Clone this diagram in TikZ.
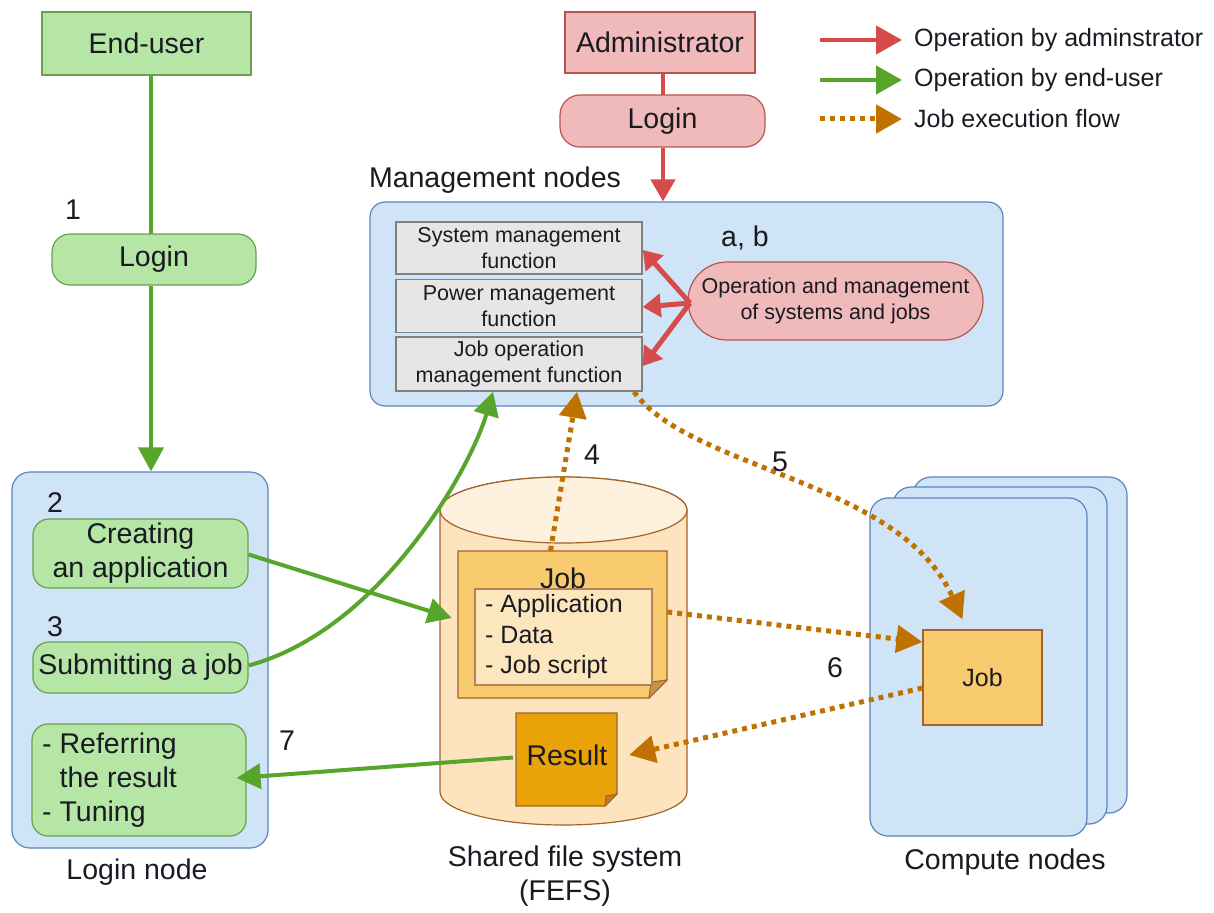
\documentclass[tikz,border=0pt]{standalone}
\usepackage{fontspec}
\setmainfont{Liberation Sans}
\usetikzlibrary{arrows.meta,shapes.misc}
\definecolor{ink}{HTML}{1A1A22}
\definecolor{gfill}{HTML}{B5E6A5}
\definecolor{gline}{HTML}{6A9F50}
\definecolor{bfill}{HTML}{D0E4F8}
\definecolor{bline}{HTML}{5B84BC}
\definecolor{pfill}{HTML}{F0BABA}
\definecolor{pline}{HTML}{B85450}
\definecolor{grayfill}{HTML}{E6E6E6}
\definecolor{grayline}{HTML}{808080}
\definecolor{cylfill}{HTML}{FDE4BE}
\definecolor{cyltop}{HTML}{FDF0DC}
\definecolor{cline}{HTML}{A0642D}
\definecolor{jobfill}{HTML}{F7CB6E}
\definecolor{jobinner}{HTML}{FCE6BE}
\definecolor{resfill}{HTML}{E9A308}
\definecolor{redar}{HTML}{D64B4B}
\definecolor{greenar}{HTML}{57A52B}
\definecolor{orar}{HTML}{BF7200}
\tikzset{
  big/.style={font=\fontsize{28.5}{34}\selectfont, text=ink},
  mid/.style={font=\fontsize{25}{30.5}\selectfont, text=ink},
  small/.style={font=\fontsize{21.5}{25.5}\selectfont, text=ink},
  gbox/.style={draw=gline, fill=gfill, line width=1.2, rounded corners=16, align=center, inner sep=0, big},
  pbox/.style={draw=pline, fill=pfill, line width=1.2, align=center, inner sep=0, big},
  fbox/.style={draw=grayline, fill=grayfill, line width=1.5, align=center, inner sep=0, small},
  cont/.style={draw=bline, fill=bfill, line width=1.2, rounded corners=18, inner sep=0},
  ghost/.style={inner sep=0, draw=none},
  garrow/.style={draw=greenar, line width=4, -{Triangle[length=24,width=25]}},
  rarrow/.style={draw=redar, line width=4.5, -{Triangle[length=22,width=24]}},
  rsmall/.style={draw=redar, line width=5, -{Triangle[length=18,width=23]}},
  oarrow/.style={draw=orar, line width=5, dash pattern=on 5 off 5, -{Triangle[length=26,width=27]}},
  lab/.style={big, inner sep=0},
}
\begin{document}
\begin{tikzpicture}[x=1pt,y=-1pt]
\useasboundingbox (0,0) rectangle (1214,912);
\fill[white] (0,0) rectangle (1214,912);

% ---------- containers ----------
\node[cont, minimum width=256, minimum height=376] (loginnode) at (140,660) {};
\node[cont, rounded corners=15, minimum width=633, minimum height=204] (mgmt) at (686.5,304) {};
\node[cont, minimum width=214, minimum height=336] (cn3) at (1020,645) {};
\node[cont, minimum width=214, minimum height=337] (cn2) at (1000,655.5) {};
\node[cont, minimum width=217, minimum height=338] (cn1) at (978.5,667) {};

% ---------- end-user side ----------
\node[gbox, rounded corners=0, minimum width=209, minimum height=63] (enduser) at (146.5,43.5) {End-user};
\draw[draw=greenar, line width=4] (enduser.south -| 151,0) -- (151,234);
\node[gbox, rounded corners=18, minimum width=204, minimum height=51] (ulogin) at (154,259.5) {Login};
\draw[garrow] (ulogin.south -| 151,0) -- (loginnode.north -| 151,0);
\node[lab] (n1) at (73,210) {1};

\node[lab] (n2) at (55,503) {2};
\node[gbox, minimum width=215, minimum height=69] (creat) at (140.5,553.5) {Creating\\an application};
\node[lab] (n3) at (55,627) {3};
\node[gbox, minimum width=215, minimum height=51] (submit) at (140.5,667.5) {Submitting a job};
\node[gbox, minimum width=214, minimum height=112] (refer) at (139,780) {};
\node[big, align=left, anchor=west, inner sep=0] (refertxt) at (42,780) {- Referring\\\phantom{- }the result\\- Tuning};
\node[lab] (n7) at (287,741) {7};
\node[lab] (lnlab) at (137,872) {Login node};

% ---------- administrator side ----------
\node[pbox, minimum width=190, minimum height=61] (admin) at (660,42.5) {Administrator};
\draw[draw=redar, line width=4.5] (admin.south -| 663,0) -- (663,95);
\node[pbox, rounded corners=20, minimum width=205, minimum height=52] (alogin) at (662.5,121) {Login};
\draw[rarrow] (alogin.south -| 663,0) -- (mgmt.north -| 663,0);
\node[lab] (mglab) at (495,180) {Management nodes};

\node[fbox, minimum width=246, minimum height=52] (sysf) at (519,248) {System management\\function};
\node[fbox, minimum width=246, minimum height=53] (powf) at (519,306) {Power management\\function};
\node[fbox, minimum width=246, minimum height=54] (jobop) at (519,364) {Job operation\\management function};
\node[lab] (nab) at (745,238) {a, b};
\node[draw=pline, fill=pfill, line width=1.2, rounded rectangle, minimum width=295, minimum height=78, inner sep=0, align=center, small] (opm) at (835.5,301) {Operation and management\\of systems and jobs};
\coordinate (opsrc) at (690,303);
\draw[rsmall] (opsrc) -- (sysf.east |- 0,250);
\draw[rsmall] (opsrc) -- (powf.east |- 0,307);
\draw[rsmall] (opsrc) -- (jobop.east |- 0,366);

% ---------- shared file system ----------
\node[ghost, minimum width=247, minimum height=348] (fefs) at (563.5,651) {};
\filldraw[fill=cylfill, draw=cline, line width=1.2]
  (440,510) -- (440,792) arc[start angle=180, end angle=360, x radius=123.5pt, y radius=33pt]
  -- (687,510) arc[start angle=0, end angle=180, x radius=123.5pt, y radius=33pt] -- cycle;
\filldraw[fill=cyltop, draw=cline, line width=1.2] (563.5,510) ellipse[x radius=123.5pt, y radius=33pt];
\node[big, align=center, inner sep=0] (fefslab) at (565,876) {Shared file system\\(FEFS)};

% job document
\node[ghost, minimum width=209, minimum height=147] (jobdoc) at (562.5,624.5) {};
\filldraw[fill=jobfill, draw=cline, line width=1.2]
  (458,551) -- (667,551) -- (667,680) -- (649,698) -- (458,698) -- cycle;
\filldraw[fill=cline!55!jobfill, draw=cline, line width=1] (667,680) -- (651,682) -- (649,698) -- cycle;
\node[big, inner sep=0] (joblab) at (563,578) {Job};
\filldraw[fill=jobinner, draw=cline!80, line width=1.2] (475,589) rectangle (652,685);
\node[mid, align=left, anchor=west, inner sep=0] (joblist) at (485,637) {- Application\\- Data\\- Job script};

% result document
\node[ghost, minimum width=101, minimum height=93] (result) at (566.5,759.5) {};
\filldraw[fill=resfill, draw=cline, line width=1.2]
  (516,713) -- (617,713) -- (617,794) -- (605,806) -- (516,806) -- cycle;
\filldraw[fill=cline!60!resfill, draw=cline, line width=1] (617,794) -- (606,796) -- (605,806) -- cycle;
\node[big, inner sep=0] (reslab) at (567,755) {Result};

% ---------- compute nodes ----------
\node[draw=cline, fill=jobfill, line width=1.2, minimum width=119, minimum height=95, inner sep=0, mid] (cjob) at (982.5,677.5) {Job};
\node[lab] (cnlab) at (1005,862) {Compute nodes};

% ---------- green arrows ----------
\draw[garrow] ([yshift=-1]creat.east) -- ([xshift=12,yshift=33]fefs.west);
\draw[garrow] ([yshift=2]submit.east) .. controls (380,630) and (470,470) .. ([xshift=-26]jobop.south);
\draw[garrow] ([xshift=-3,yshift=2]result.west) -- ([xshift=-10,yshift=2]refer.east);

% ---------- orange job flow ----------
\draw[oarrow] ([xshift=-12]jobdoc.north) -- ([xshift=58]jobop.south);
\node[lab] (n4) at (592,455) {4};
\draw[oarrow] ([xshift=115]jobop.south) .. controls (690,470) and (900,480) .. ([xshift=-20,yshift=10]cjob.north);
\node[lab] (n5) at (780,462) {5};
\draw[oarrow] ([yshift=12.5]jobdoc.east) -- ([yshift=35.5]cjob.west);
\draw[oarrow] ([yshift=-10.5]cjob.west) -- ([xshift=12,yshift=4.5]result.east);
\node[lab] (n6) at (835,668) {6};

% ---------- legend ----------
\coordinate (lr1) at (820,40); \coordinate (lr2) at (902,40);
\coordinate (lg1) at (820,80); \coordinate (lg2) at (902,80);
\coordinate (lo1) at (820,119); \coordinate (lo2) at (902,119);
\draw[draw=redar, line width=4.5, -{Triangle[length=26,width=28]}] (lr1) -- (lr2);
\draw[draw=greenar, line width=4.5, -{Triangle[length=26,width=28]}] (lg1) -- (lg2);
\draw[draw=orar, line width=5, dash pattern=on 5 off 5, -{Triangle[length=26,width=28]}] (lo1) -- (lo2);
\node[mid, anchor=west, inner sep=0] (lt1) at (914,40) {Operation by adminstrator};
\node[mid, anchor=west, inner sep=0] (lt2) at (914,80) {Operation by end-user};
\node[mid, anchor=west, inner sep=0] (lt3) at (914,119) {Job execution flow};
\end{tikzpicture}
\end{document}
